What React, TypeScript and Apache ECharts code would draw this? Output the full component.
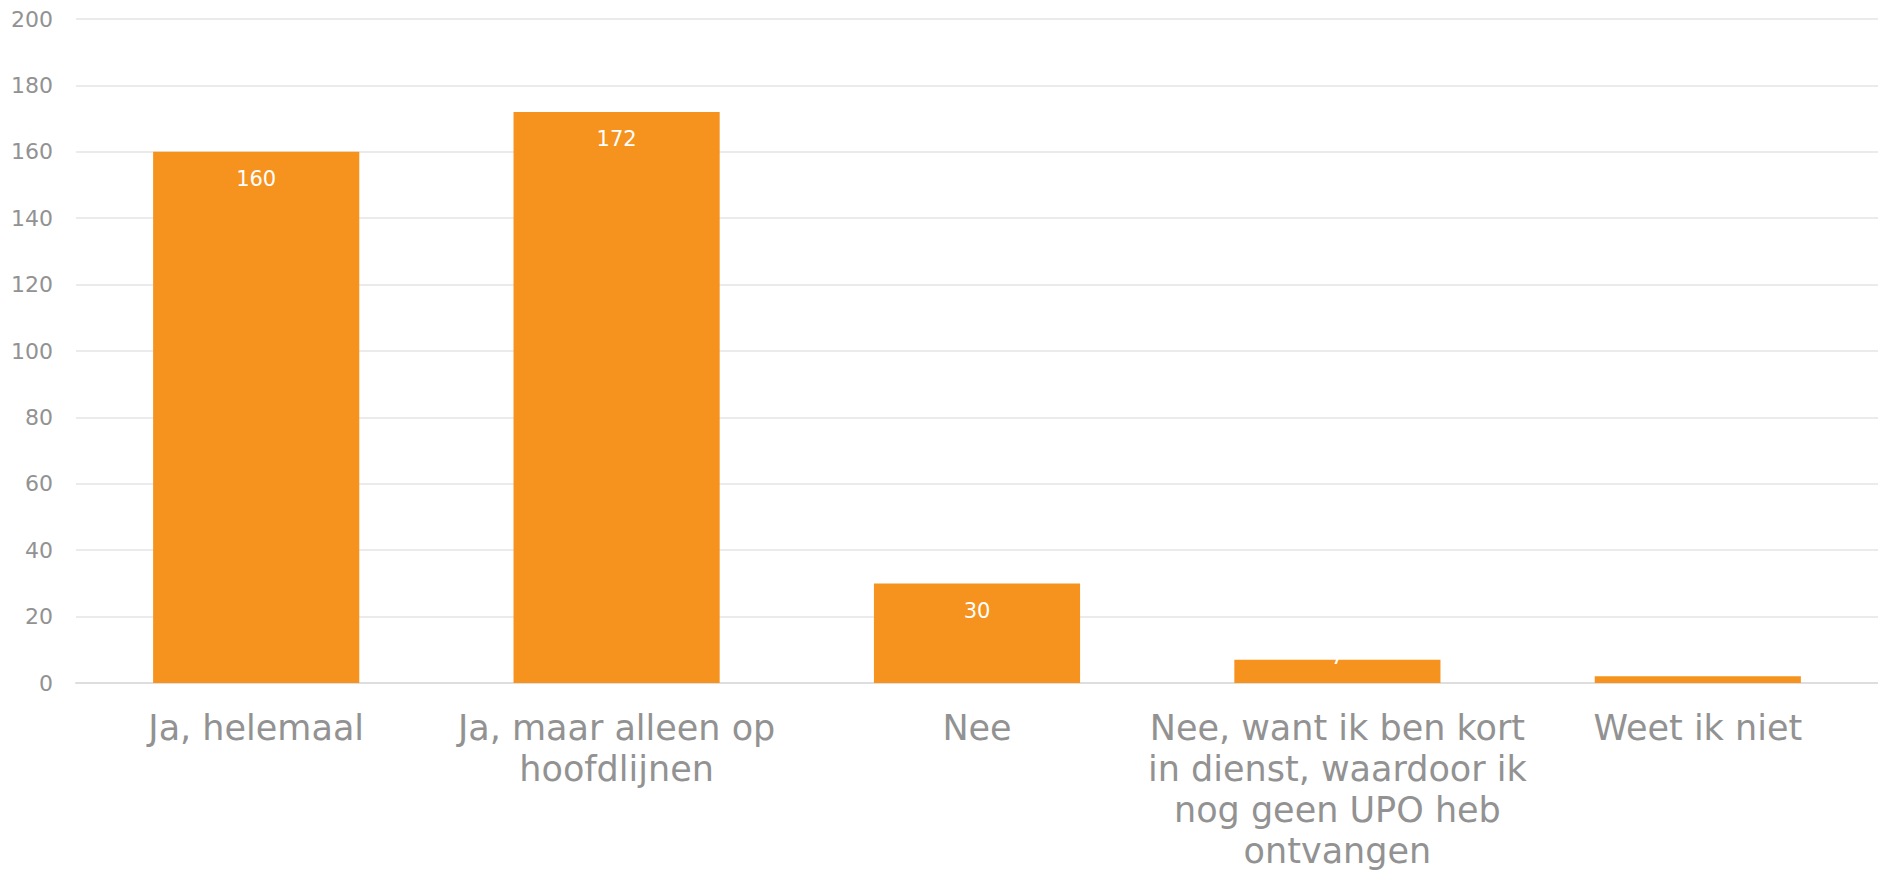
import React, { useEffect, useRef } from "react";
import * as echarts from "echarts";

const categories = [
  "Ja, helemaal",
  "Ja, maar alleen op\nhoofdlijnen",
  "Nee",
  "Nee, want ik ben kort\nin dienst, waardoor ik\nnog geen UPO heb\nontvangen",
  "Weet ik niet",
];
const values = [160, 172, 30, 7, 2];
const yMin = 0;
const yMax = 200;
const yInterval = 20;

const FONT = "'DejaVu Sans', sans-serif";
const GREY = "#929292";
const ORANGE = "#F6931F";

export default function App() {
  const ref = useRef<HTMLDivElement>(null);

  useEffect(() => {
    if (!ref.current) return;
    const chart = echarts.init(ref.current, undefined, { renderer: "svg" });

    const data = values.map((v) => {
      if (v < 5) {
        return { value: v, label: { show: false } };
      }
      if (v < 15) {
        return { value: v, label: { position: "top", distance: -8 } };
      }
      return { value: v };
    });

    chart.setOption({
      animation: false,
      backgroundColor: "#ffffff",
      grid: { left: 76, top: 19, bottom: 192, width: 1816, containLabel: false },
      xAxis: {
        type: "category",
        data: categories,
        axisLine: { show: true, lineStyle: { color: "#dedede", width: 2 } },
        axisTick: { show: false },
        axisLabel: {
          interval: 0,
          margin: 24,
          color: GREY,
          fontFamily: FONT,
          fontSize: 35,
          lineHeight: 41,
          align: "center",
        },
      },
      yAxis: {
        type: "value",
        min: yMin,
        max: yMax,
        interval: yInterval,
        axisLine: { show: false },
        axisTick: { show: false },
        splitLine: { lineStyle: { color: "#e4e4e4", width: 1.5 } },
        axisLabel: {
          margin: 23,
          color: GREY,
          fontFamily: FONT,
          fontSize: 22,
        },
      },
      series: [
        {
          type: "bar",
          data,
          barWidth: "57.2%",
          itemStyle: { color: ORANGE },
          label: {
            show: true,
            position: "insideTop",
            distance: 17,
            color: "#ffffff",
            fontFamily: FONT,
            fontSize: 21,
          },
        },
      ],
    });

    return () => chart.dispose();
  }, []);

  return (
    <div
      ref={ref}
      style={{ position: "absolute", left: 0, top: 0, width: 1878, height: 875 }}
    />
  );
}
